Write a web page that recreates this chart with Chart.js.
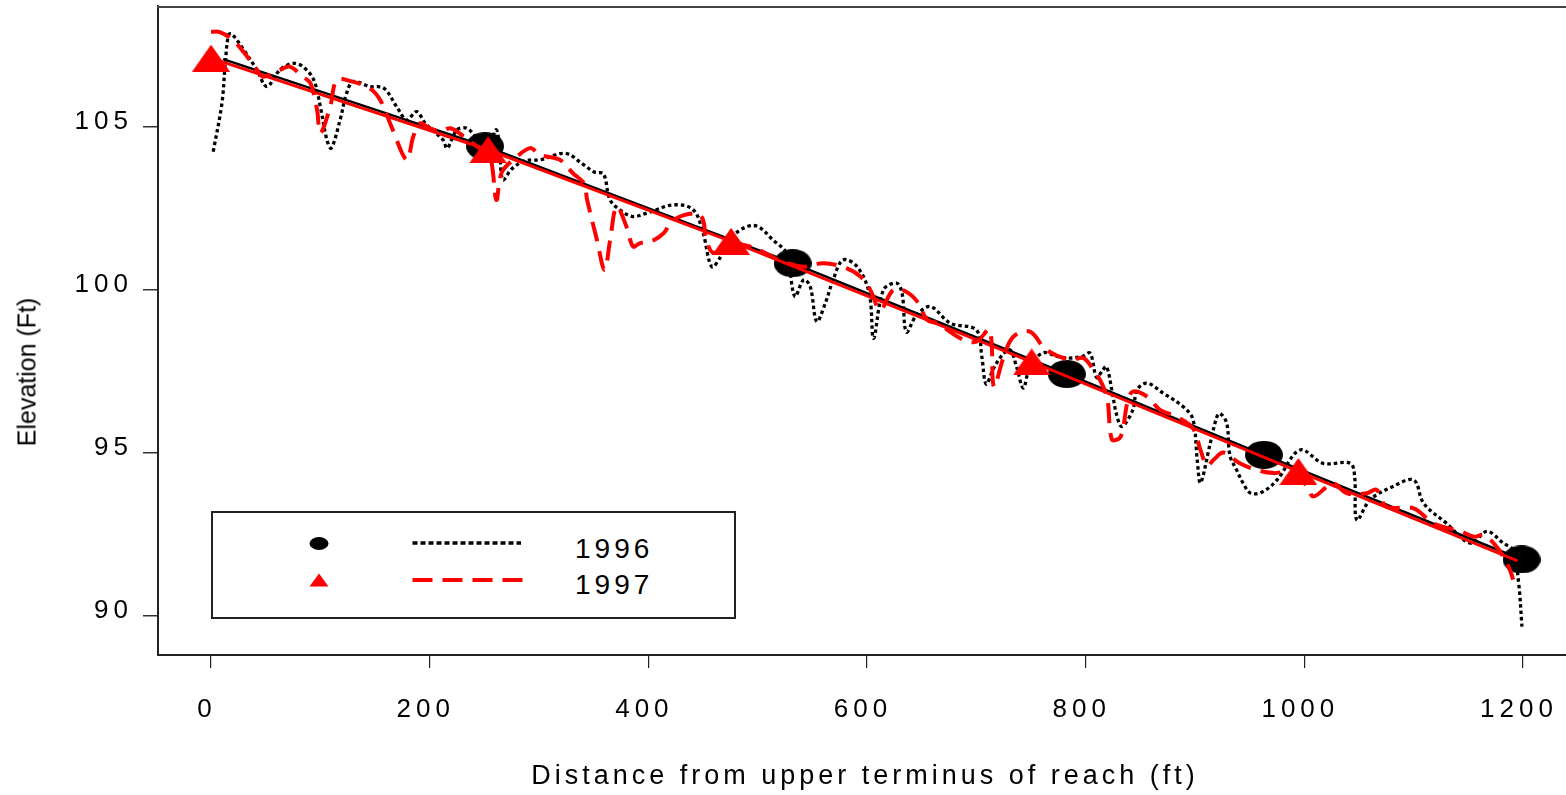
<!DOCTYPE html>
<html><head><meta charset="utf-8">
<script src="https://cdn.jsdelivr.net/npm/chart.js@4/dist/chart.umd.min.js"></script>
<style>
html,body{margin:0;padding:0;background:#fff;}
#wrap{position:relative;width:1566px;height:795px;overflow:hidden;font-family:"Liberation Sans",Arial,sans-serif;color:#000;}
#c{position:absolute;left:0;top:0;}
#ytitle{position:absolute;left:27px;top:372px;transform:translate(-50%,-50%) rotate(-90deg);font-size:25px;white-space:nowrap;}
#xtitle{position:absolute;left:865px;top:775px;transform:translate(-50%,-50%);font-size:27px;letter-spacing:4px;white-space:nowrap;}
#legend{position:absolute;left:211px;top:511px;width:521px;height:104px;border:2px solid #222;background:#fff;}
#legend svg{position:absolute;left:0;top:0;}
</style></head><body>
<div id="wrap">
<canvas id="c" width="1566" height="795"></canvas>
<div id="ytitle">Elevation (Ft)</div>
<div id="xtitle">Distance from upper terminus of reach (ft)</div>
<div id="legend"><svg width="521" height="104" xmlns="http://www.w3.org/2000/svg">
<ellipse cx="106" cy="30.5" rx="9.5" ry="6.5" fill="#000"/>
<polygon points="96.5,73.5 115.5,73.5 106,60.5" fill="#ff0000"/>
<line x1="199.5" y1="30" x2="308" y2="30" stroke="#000" stroke-width="3.3" stroke-dasharray="5 3"/>
<line x1="199.5" y1="67" x2="310" y2="67" stroke="#ff0000" stroke-width="4" stroke-dasharray="20 10"/>
<text x="362" y="45.3" font-family="Liberation Sans, Arial, sans-serif" font-size="28" letter-spacing="4" fill="#000">1996</text>
<text x="362" y="81.3" font-family="Liberation Sans, Arial, sans-serif" font-size="28" letter-spacing="4" fill="#000">1997</text>
</svg></div>
</div>
<script>
// ---- data ----
const xTickValues = [0, 200, 400, 600, 800, 1000, 1200];
const yTickValues = [90, 95, 100, 105];

// 1996 longitudinal profile (dotted black)
const dist1996 = [2,10,13,16,19,30,42,51,63,75,84,94,100,106,110,118,124,130,145,158,170,179,188,196,212,216,225,234,245,254,261,264,267,275,287,301,324,340,351,359,365,376,386,399,423,441,450,458,466,472,485,499,514,526,534,542,548,554,562,569,578,591,602,606,615,627,632,636,645,658,676,700,705,709,716,724,731,737,743,749,761,774,786,797,804,810,815,819,824,828,833,843,847,856,871,889,898,902,905,914,920,923,929,932,938,944,951,962,975,996,1017,1042,1046,1048,1060,1081,1100,1109,1130,1152,1167,1182,1191,1196,1199];
const elev1996 = [104.23,105.72,106.94,107.81,107.84,107.35,106.74,106.23,106.74,106.94,106.84,106.43,105.61,104.59,104.34,105.2,106.02,106.38,106.23,106.18,105.6,105.2,105.46,105.1,104.6,104.34,104.9,104.95,104.6,104.5,104.9,104.2,103.37,103.7,103.95,103.98,104.18,103.85,103.6,103.55,102.75,102.4,102.24,102.35,102.6,102.45,101.74,100.7,101.0,101.43,101.85,101.95,101.52,101.12,99.79,100.3,100.1,99.02,99.6,100.3,100.91,100.7,99.89,98.5,99.99,100.2,99.9,98.7,99.2,99.48,98.97,98.76,97.94,97.1,97.6,98.0,98.15,97.6,96.98,97.64,98.06,97.95,97.9,97.95,98.05,97.3,97.5,97.64,96.9,96.2,95.8,96.3,96.92,97.13,96.82,96.41,96.03,94.78,94.07,95.3,96.1,96.2,95.9,94.9,94.47,94.06,93.75,93.8,94.16,95.08,94.67,94.67,94.26,92.93,93.55,93.96,94.16,93.45,92.83,92.22,92.58,92.22,92.0,91.0,89.66];

// 1997 longitudinal profile (dashed red)
const dist1997 = [0,8,20,33,42,48,63,72,84,91,97,100,109,115,127,145,155,165,179,185,191,200,210,219,231,245,255,261,266,280,292,301,319,331,341,344,353,360,365,371,380,386,392,405,414,423,444,450,453,460,475,490,502,520,542,560,581,594,603,612,624,635,646,655,664,688,700,712,716,725,734,749,764,786,798,807,815,820,824,832,838,843,856,868,883,898,905,911,917,926,941,956,972,985,1003,1008,1021,1027,1039,1057,1066,1075,1100,1118,1143,1155,1164,1173,1182,1188,1191];
const elev1997 = [107.91,107.9,107.66,107.15,106.74,106.53,106.74,106.84,106.53,106.33,105.51,104.8,105.61,106.43,106.4,106.18,105.8,105.0,103.98,104.7,105.1,104.95,104.85,104.95,104.7,104.35,104.1,102.75,103.6,104.08,104.34,104.13,103.98,103.57,103.26,102.75,101.52,100.6,101.52,102.55,101.93,101.32,101.42,101.52,101.73,102.14,102.34,102.14,101.52,101.12,101.4,101.35,101.2,100.9,100.7,100.81,100.66,100.4,99.99,99.38,99.99,99.95,99.63,99.07,98.97,98.46,98.4,98.76,97.02,97.94,98.56,98.71,98.15,97.84,97.9,97.54,97.1,96.6,95.4,95.49,96.51,96.87,96.72,96.31,96.1,95.75,95.08,94.6,94.78,95.0,94.67,94.47,94.37,94.4,93.96,93.65,93.96,94.06,93.75,93.75,93.86,93.34,93.29,92.83,92.58,92.42,92.47,92.22,91.81,91.4,91.1];

// survey stations (markers) and connecting lines
const surveyDist1996 = [250.6, 532, 782.7, 963, 1198.7];
const surveyElev1996 = [104.4, 100.81, 97.41, 94.93, 91.72];
const surveyDist1997 = [0, 253.4, 475.6, 750.6, 994.5];
const surveyElev1997 = [107.1, 104.29, 101.48, 97.78, 94.42];
const trendDist1996 = [11, 250.6, 532, 782.7, 963, 1198.7];
const trendElev1996 = [107.07, 104.4, 100.81, 97.41, 94.93, 91.72];
const trendDist1997 = [0, 253.4, 475.6, 750.6, 994.5, 1195];
const trendElev1997 = [107.1, 104.29, 101.48, 97.78, 94.42, 91.68];

// ---- helpers ----
const pts = (xs, ys) => xs.map((x, i) => ({x: x, y: ys[i]}));
function ellipseImg(w, h, color) {
  const c = document.createElement('canvas'); c.width = w; c.height = h;
  const g = c.getContext('2d'); g.fillStyle = color;
  g.beginPath(); g.ellipse(w/2, h/2, w/2, h/2, 0, 0, Math.PI*2); g.fill();
  return c;
}
function triImg(w, h, color) {
  const c = document.createElement('canvas'); c.width = w; c.height = h;
  const g = c.getContext('2d'); g.fillStyle = color;
  g.beginPath(); g.moveTo(w/2, 0); g.lineTo(w, h); g.lineTo(0, h); g.closePath(); g.fill();
  return c;
}
const circleMark = ellipseImg(38, 28, '#000000');
const triMark = triImg(38, 27, '#ff0000');

const FONT = '"Liberation Sans", Arial, sans-serif';

const spacingPlugin = {
  id: 'spacing',
  beforeDraw(chart) { chart.ctx.letterSpacing = '5px'; },
  afterDraw(chart) {
    const ctx = chart.ctx; const a = chart.chartArea;
    ctx.letterSpacing = '0px';
    ctx.save();
    ctx.strokeStyle = '#444'; ctx.lineWidth = 2;
    ctx.beginPath(); ctx.moveTo(a.left - 1, a.top + 1); ctx.lineTo(a.right, a.top + 1); ctx.stroke();
    ctx.restore();
  }
};

const zeroPad = s => { s.paddingLeft = 0; s.paddingRight = 0; s.paddingTop = 0; s.paddingBottom = 0; };

new Chart(document.getElementById('c'), {
  type: 'scatter',
  data: {
    datasets: [
      {label: '1997 survey', data: pts(surveyDist1997, surveyElev1997), pointStyle: triMark, pointRadius: 10, showLine: false, order: 0},
      {label: '1997 line', data: pts(trendDist1997, trendElev1997), showLine: true, borderColor: '#ff0000', borderWidth: 3, pointRadius: 0, tension: 0, order: 1},
      {label: '1997', data: pts(dist1997, elev1997), showLine: true, borderColor: '#ff0000', borderWidth: 4, borderDash: [20, 10], borderJoinStyle: 'round', pointRadius: 0, tension: 0.35, order: 2},
      {label: '1996 line', data: pts(trendDist1996, trendElev1996), showLine: true, borderColor: '#000000', borderWidth: 2.5, pointRadius: 0, tension: 0, order: 3},
      {label: '1996', data: pts(dist1996, elev1996), showLine: true, borderColor: '#000000', borderWidth: 3.3, borderDash: [3.5, 3], borderJoinStyle: 'round', pointRadius: 0, tension: 0.35, order: 4},
      {label: '1996 survey', data: pts(surveyDist1996, surveyElev1996), pointStyle: circleMark, pointRadius: 10, showLine: false, order: 5}
    ]
  },
  options: {
    responsive: false,
    animation: false,
    devicePixelRatio: 1,
    events: [],
    layout: {autoPadding: false, padding: {top: 6, right: 0, left: 0, bottom: 0}},
    plugins: {legend: {display: false}, tooltip: {enabled: false}},
    scales: {
      x: {
        type: 'linear', min: -48.5, max: 1239.3,
        afterBuildTicks: s => { s.ticks = xTickValues.map(v => ({value: v})); },
        afterFit: s => { s.height = 140; zeroPad(s); },
        grid: {drawOnChartArea: false, drawTicks: true, tickLength: 13, color: '#222', tickColor: '#222', lineWidth: 1.2},
        border: {display: true, color: '#222', width: 2},
        ticks: {font: {family: FONT, size: 26}, color: '#000', padding: 26, labelOffset: -4, maxRotation: 0, autoSkip: false, callback: v => String(v)}
      },
      y: {
        type: 'linear', min: 88.79, max: 108.7,
        afterBuildTicks: s => { s.ticks = yTickValues.map(v => ({value: v})); },
        afterFit: s => { s.width = 158; zeroPad(s); },
        grid: {drawOnChartArea: false, drawTicks: true, tickLength: 15, color: '#333', tickColor: '#333', lineWidth: 1.5},
        border: {display: true, color: '#222', width: 2},
        ticks: {font: {family: FONT, size: 26}, color: '#000', padding: 10, labelOffset: -5, autoSkip: false, callback: v => String(v)}
      }
    }
  },
  plugins: [spacingPlugin]
});
</script>
</body></html>
